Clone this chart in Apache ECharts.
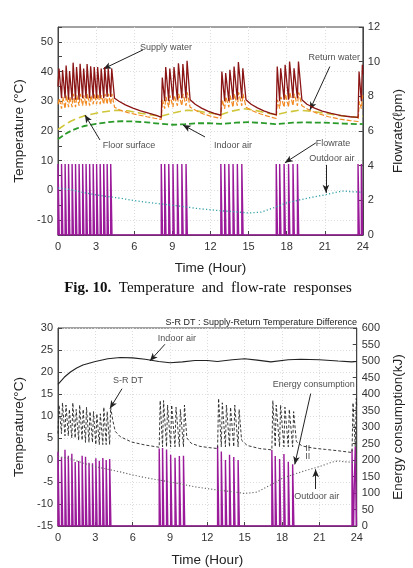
<!DOCTYPE html>
<html>
<head>
<meta charset="utf-8">
<script src="https://cdn.jsdelivr.net/npm/echarts@6/dist/echarts.min.js"></script>
<style>
html, body { margin: 0; padding: 0; background: #fff; }
#chart { width: 413px; height: 568px; }
</style>
</head>
<body>
<div id="chart"></div>
<script>
// hours of the day, temperatures in degC
const hourLabels = [0, 3, 6, 9, 12, 15, 18, 21, 24];
const upperTempLabels = [-10, 0, 10, 20, 30, 40, 50];

// pump pulses (start hour), each one lasts pulseHours
const pumpStart = [0.0, 0.28, 0.56, 0.83, 1.11, 1.38, 1.66, 1.94, 2.21, 2.49, 2.77, 3.04, 3.32, 3.6, 3.87, 4.15,
  8.13, 8.4, 8.72, 9.05, 9.4, 9.75, 10.08,
  12.82, 13.12, 13.45, 13.78, 14.12, 14.47,
  17.18, 17.45, 17.8, 18.15, 18.5, 18.85,
  23.62, 23.88];
const pulseHours = 0.1;
const flowLpm = 4.1;
// energy of each pulse (kJ)
const energyKJ = [225, 208, 231, 213, 219, 194, 197, 213, 210, 192, 190, 205, 198, 206, 200, 203,
  235, 236, 232, 216, 207, 212, 213,
  242, 226, 200, 216, 209, 200,
  230, 212, 203, 218, 195, 187,
  232, 240];

const supplyWater = [[0,35],[0.08,41],[0.28,31],[0.36,40.5],[0.56,31],[0.64,42],[0.83,30.5],[0.91,40.2],
  [1.11,30.5],[1.19,43],[1.38,30.5],[1.46,41.5],[1.66,30.5],[1.74,42.6],[1.94,31],[2.02,41],
  [2.21,31],[2.29,42.5],[2.49,31],[2.57,41.8],[2.77,31],[2.85,41.5],[3.04,31],[3.12,41.5],
  [3.32,31],[3.4,41],[3.6,31],[3.68,41.5],[3.87,31.5],[3.95,41],[4.15,31.5],[4.23,41],
  [4.45,31],[4.8,30],[5.3,28.8],[5.9,27.7],[6.5,26.8],[7.2,25.9],[7.8,25.2],[8.13,24.6],
  [8.21,38],[8.4,30],[8.48,41.5],[8.72,30],[8.8,41],[9.05,30.5],[9.13,41.5],[9.4,30.5],[9.48,42.8],
  [9.75,31],[9.83,42.5],[10.08,31],[10.16,43.6],
  [10.4,30.5],[10.8,29],[11.3,27.7],[11.8,26.7],[12.3,25.9],[12.82,25.3],
  [12.9,40],[13.12,30],[13.2,39.5],[13.45,30],[13.53,40.6],[13.78,30.5],[13.86,41.7],[14.12,30.5],[14.2,43.2],
  [14.47,31],[14.55,41.1],
  [14.8,30.5],[15.2,29],[15.7,27.8],[16.2,26.8],[16.7,26],[17.18,25.4],
  [17.26,41.7],[17.45,30],[17.53,41.1],[17.8,30.5],[17.88,42.3],[18.15,30.5],[18.23,43.4],[18.5,31],[18.58,41.1],
  [18.85,31],[18.93,43.4],
  [19.2,30.5],[19.6,29],[20.2,27.7],[20.8,26.7],[21.5,25.9],[22.3,25.2],[23,24.8],[23.62,24.6],
  [23.7,40],[23.88,30],[23.96,42.3],[24,39]];

const returnWater = [[0,29],[0.1,31],[0.28,27.5],[0.38,31.5],[0.56,27.5],[0.66,32],[0.83,28],[0.93,31.5],
  [1.11,28],[1.21,32.5],[1.38,28],[1.48,32],[1.66,28.5],[1.76,32.5],[1.94,28.5],[2.04,32],
  [2.21,28.5],[2.31,32.5],[2.49,28.5],[2.59,32],[2.77,29],[2.87,32.5],[3.04,29],[3.14,32.5],
  [3.32,29],[3.42,32],[3.6,29],[3.7,32.5],[3.87,29],[3.97,32.5],[4.15,29],[4.25,32.5],
  [4.45,28],[4.9,27],[5.5,26.2],[6.2,25.5],[7,24.8],[7.6,24.3],[8.13,23.9],
  [8.23,30.5],[8.4,27.5],[8.5,31.5],[8.72,28],[8.82,32],[9.05,28],[9.15,32],[9.4,28.5],[9.5,32.5],
  [9.75,28.5],[9.85,32.5],[10.08,28.5],[10.18,33],
  [10.4,28],[10.9,26.8],[11.4,25.8],[12,25],[12.82,24.2],
  [12.92,30.5],[13.12,27.5],[13.22,31.5],[13.45,28],[13.55,32],[13.78,28],[13.88,32.5],[14.12,28.5],[14.22,33],
  [14.47,28.5],[14.57,32.5],
  [14.8,28],[15.3,26.8],[15.9,25.8],[16.5,25],[17.18,24.2],
  [17.28,30.5],[17.45,27.5],[17.55,31.5],[17.8,28],[17.9,32.5],[18.15,28],[18.25,33],[18.5,28.5],[18.6,32.5],
  [18.85,28.5],[18.95,33],
  [19.2,28.5],[19.8,27],[20.5,25.8],[21.3,24.8],[22.2,24],[23,23.5],[23.62,23.2],
  [23.72,30],[23.88,27.5],[23.98,32],[24,31]];

const floorSurface = [[0,20.5],[0.5,22],[1,23.3],[1.5,24.2],[2,25],[2.5,25.5],[3,26],[3.5,26.4],[4.2,26.8],
  [4.6,27],[5.5,26.8],[6.5,26],[7.5,25.3],[8.1,25],[8.8,25.8],[9.5,26.5],[10.2,27],[11,26.7],[12,26],
  [12.8,25.5],[13.5,26.5],[14.6,27.5],[15.5,27],[16.5,26],[17.2,25.5],[18,26.3],[19,27],[20,26.6],
  [21,26],[22,25.3],[23,24.8],[23.7,24.6],[24,25]];

const indoorAir = [[0,17.2],[0.5,18.8],[1,20],[1.5,20.9],[2,21.6],[3,22.4],[4,23],[5,23.3],[6,23.2],[7,22.9],
  [8.1,22.4],[9,22.1],[10,22.3],[11,22.6],[12,22.6],[12.8,22.4],[14,22.8],[15,23],[16,22.7],[17.1,22.3],
  [18.5,22.8],[19.5,22.9],[21,22.8],[22.5,22.5],[23.6,22.3],[24,22.4]];

const outdoorAir = [[0,0.8],[1,0.3],[2,-0.7],[3,-1.5],[4,-2.1],[5,-2.7],[6,-3.4],[7,-4],[8,-4.5],[9,-5],
  [10,-5.5],[11,-6.1],[12,-6.5],[13,-6.9],[14,-7.2],[15,-7.6],[16,-7.3],[17,-5.8],[18,-4.2],[19,-3.2],
  [20,-2.3],[21,-1.5],[22,-0.5],[22.5,-0.2],[23,-0.4],[24,-0.6]];

// supply - return temperature difference
const srDT = [[0,6],[0.08,12.5],[0.28,6],[0.36,13],[0.56,5.5],[0.64,12.5],[0.83,5.5],[0.91,11.5],
  [1.11,5],[1.19,13],[1.38,5],[1.46,11.5],[1.66,4.5],[1.74,12.5],[1.94,4.5],[2.02,11.5],
  [2.21,4],[2.29,12],[2.49,4],[2.57,11],[2.77,4],[2.85,11],[3.04,3.5],[3.12,10.5],
  [3.32,3.5],[3.4,10.5],[3.6,3.5],[3.68,12],[3.87,3.5],[3.95,11],[4.15,3.5],[4.23,12],
  [4.4,9],[4.6,6.5],[5,5.3],[5.9,4.1],[7,3.4],[7.9,3],[8.13,2.9],
  [8.21,13.5],[8.4,3],[8.48,13.5],[8.72,3],[8.8,12.5],[9.05,3],[9.13,12.5],[9.4,3],[9.48,12],
  [9.75,3],[9.83,11.5],[10.08,3],[10.16,12.5],
  [10.35,5],[10.7,3.8],[11.4,3.1],[12.2,2.8],[12.82,2.6],
  [12.9,14],[13.12,3],[13.2,13],[13.45,3],[13.53,12.5],[13.78,3],[13.86,12],[14.12,3],[14.2,12.5],
  [14.47,3],[14.55,11.5],
  [14.75,4.5],[15.2,3.3],[16.2,2.6],[17.18,2.3],
  [17.26,13.5],[17.45,3],[17.53,12.5],[17.8,3],[17.88,12.5],[18.15,3],[18.23,12],[18.5,3],[18.58,11.5],
  [18.85,3],[18.93,11],
  [19.15,4.2],[19.6,3.2],[20.5,2.7],[21.5,2.4],[22.5,2.1],[23.62,1.7],
  [23.7,13],[23.88,3],[23.96,14],[24,12]];

const PURPLE = '#9A1A9A';
const FONT = 'Liberation Sans';

function pulses(height) {
  const pts = [[0, 0]];
  pumpStart.forEach((t, i) => {
    const h = Array.isArray(height) ? height[i] : height;
    pts.push([t, 0], [t, h], [t + pulseHours, h], [t + pulseHours, 0]);
  });
  pts.push([24, 0]);
  return pts;
}

function line(name, data, xi, yi, color, width, type, z) {
  return {
    type: 'line', name, data, xAxisIndex: xi, yAxisIndex: yi,
    symbol: 'none', silent: true, z,
    lineStyle: { color, width, type }
  };
}

function notes(xi, yi, labels, arrows) {
  return {
    type: 'scatter', xAxisIndex: xi, yAxisIndex: yi, silent: true, z: 10,
    symbolSize: 1, itemStyle: { color: 'rgba(0,0,0,0)' },
    data: labels,
    label: { show: true, position: 'inside', formatter: '{b}', fontSize: 9, color: '#222', fontFamily: FONT },
    markLine: {
      silent: true, animation: false,
      symbol: ['none', 'arrow'], symbolSize: [5, 8],
      lineStyle: { color: '#222', width: 1, type: 'solid' },
      label: { show: false },
      data: arrows.map(a => [{ coord: a[0] }, { coord: a[1] }])
    }
  };
}

const axisText = { fontSize: 11, color: '#333', fontFamily: FONT };
const nameText = { fontSize: 13.5, color: '#222', fontFamily: FONT };
const gridLine = { show: true, lineStyle: { color: '#dcdcdc', type: [1, 2] } };

function xAxis(gi, name, gap) {
  return {
    gridIndex: gi, type: 'value', min: 0, max: 24, interval: 3,
    name, nameLocation: 'middle', nameGap: gap, nameTextStyle: nameText,
    axisLine: { onZero: false, lineStyle: { color: '#444' } },
    axisTick: { inside: true, length: 4, lineStyle: { color: '#444' } },
    axisLabel: Object.assign({ margin: 6, showMinLabel: true, showMaxLabel: true,
      formatter: v => hourLabels.includes(v) ? String(v) : '' }, axisText),
    splitLine: gridLine
  };
}

function yAxis(gi, pos, min, max, step, name, gap, extra) {
  return Object.assign({
    gridIndex: gi, type: 'value', position: pos, min, max, interval: step,
    name, nameLocation: 'middle', nameGap: gap, nameRotate: 90, nameTextStyle: nameText,
    axisLine: { show: true, onZero: false, lineStyle: { color: '#444' } },
    axisTick: { show: true, inside: true, length: 4, lineStyle: { color: '#444' } },
    axisLabel: Object.assign({ margin: 5, showMinLabel: true, showMaxLabel: true }, axisText),
    splitLine: { show: false }
  }, extra || {});
}

const chart = echarts.init(document.getElementById('chart'), null, { renderer: 'canvas' });

chart.setOption({
  animation: false,
  backgroundColor: '#fff',
  title: {
    text: 'S-R DT : Supply-Return Temperature Difference',
    right: 56, top: 318, padding: 0,
    textStyle: { fontSize: 9, fontWeight: 'normal', color: '#222', fontFamily: FONT }
  },
  graphic: [{
    type: 'text', x: 208, y: 288,
    style: {
      text: '{b|Fig. 10.}  Temperature  and  flow-rate  responses',
      align: 'center', verticalAlign: 'middle',
      font: '15px "Liberation Serif"', fill: '#111',
      rich: { b: { fontWeight: 'bold', fontSize: 15, fontFamily: 'Liberation Serif', fill: '#111' } }
    }
  }],
  grid: [
    { left: 58, right: 50, top: 27, height: 208, show: true, borderColor: '#444', borderWidth: 1 },
    { left: 58, right: 56, top: 328, height: 209, show: true, borderColor: '#444', borderWidth: 1 }
  ],
  xAxis: [xAxis(0, 'Time (Hour)', 26), xAxis(1, 'Time (Hour)', 27)],
  yAxis: [
    yAxis(0, 'left', -15, 55, 5, 'Temperature (°C)', 31, {
      axisLabel: Object.assign({ margin: 5, formatter: v => upperTempLabels.includes(v) ? String(v) : '' }, axisText),
      splitLine: { show: true, lineStyle: { color: ['rgba(0,0,0,0)', '#dcdcdc'], type: [1, 2] } }
    }),
    yAxis(0, 'right', 0, 12, 2, 'Flowrate(ℓpm)', 26),
    yAxis(1, 'left', -15, 30, 5, 'Temperature(°C)', 31, { splitLine: gridLine }),
    yAxis(1, 'right', 0, 600, 50, 'Energy consumption(kJ)', 34)
  ],
  series: [
    // upper panel
    Object.assign(line('Flowrate', pulses(flowLpm), 0, 1, PURPLE, 1.4, 'solid', 1),
      { areaStyle: { color: PURPLE, opacity: 0.35 } }),
    line('Outdoor air', outdoorAir, 0, 0, '#2f9fa6', 1.3, [1.2, 2.2], 3),
    line('Indoor air', indoorAir, 0, 0, '#2a9a2a', 1.8, [6, 3], 3),
    line('Floor surface', floorSurface, 0, 0, '#cfc63a', 1.6, [8, 4], 3),
    line('Return water', returnWater, 0, 0, '#f28a22', 1.2, [5, 2], 4),
    line('Supply water', supplyWater, 0, 0, '#8b1515', 1.3, 'solid', 5),
    notes(0, 0, [
      { name: 'Supply water', value: [8.5, 48.0] },
      { name: 'Return water', value: [21.75, 44.6] },
      { name: 'Floor surface', value: [5.59, 15.0] },
      { name: 'Indoor air', value: [13.77, 15.0] },
      { name: 'Flowrate', value: [21.64, 15.7] },
      { name: 'Outdoor air', value: [21.56, 10.9] }
    ], [
      [[6.69, 47.3], [3.56, 40.9]],
      [[21.4, 41.7], [19.83, 27.1]],
      [[3.3, 17.0], [2.12, 25.4]],
      [[11.57, 18.0], [9.83, 22.05]],
      [[20.3, 16.0], [17.86, 9.3]],
      [[21.09, 8.6], [21.09, -0.8]]
    ]),
    // lower panel
    Object.assign(line('Energy consumption', pulses(energyKJ), 1, 3, PURPLE, 1.4, 'solid', 1),
      { areaStyle: { color: PURPLE, opacity: 0.35 } }),
    line('Outdoor air', outdoorAir, 1, 2, '#666', 1.1, [1.2, 2], 3),
    line('S-R DT', srDT, 1, 2, '#222', 0.9, [3, 2], 4),
    line('Indoor air', indoorAir, 1, 2, '#222', 1.1, 'solid', 4),
    notes(1, 2, [
      { name: 'Indoor air', value: [9.55, 27.6] },
      { name: 'S-R DT', value: [5.62, 18.1] },
      { name: 'Energy consumption', value: [20.55, 17.1] },
      { name: 'Outdoor air', value: [20.79, -8.4] },
      { name: 'II', value: [20.06, 2.6] },
      { name: 'II', value: [20.06, 0.9] }
    ], [
      [[8.59, 26.3], [7.38, 22.5]],
      [[5.14, 16.2], [4.17, 11.7]],
      [[20.3, 15.1], [19.02, -1.0]],
      [[20.7, -6.6], [20.7, -2.1]]
    ])
  ]
});
</script>
</body>
</html>
